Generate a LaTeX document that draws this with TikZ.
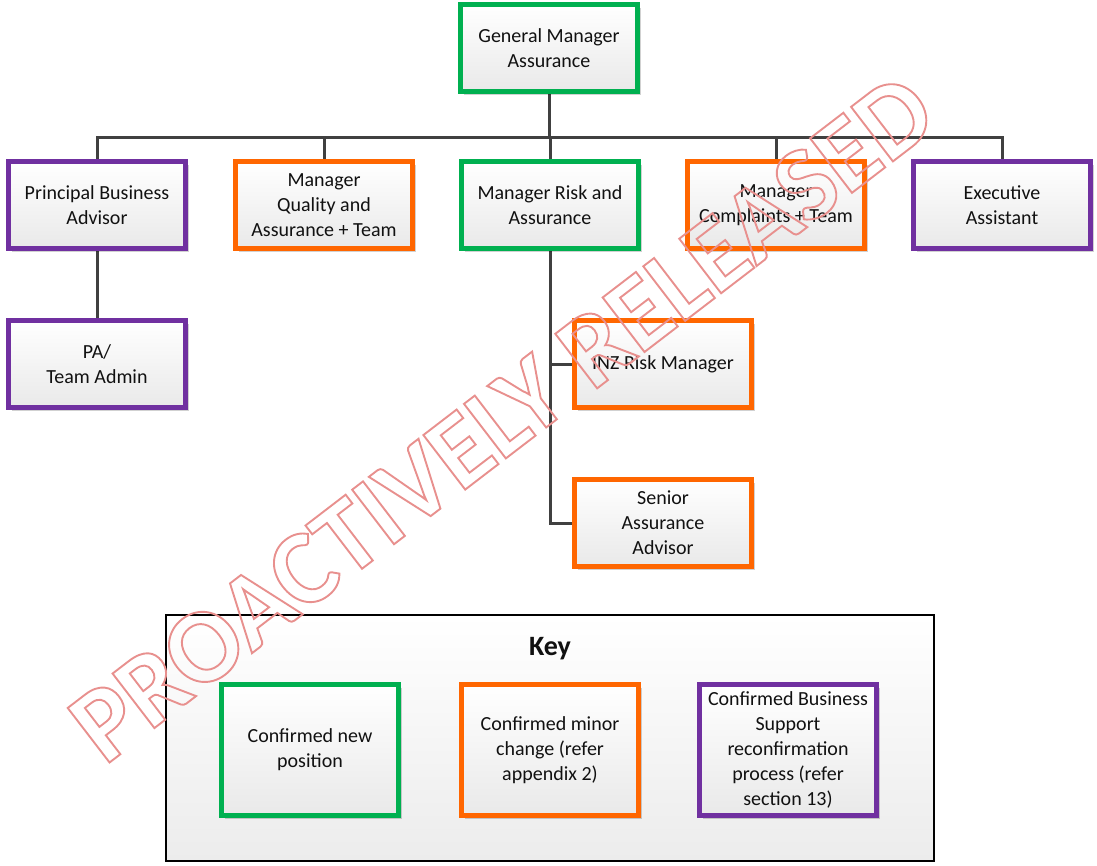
\documentclass[tikz,border=0pt]{standalone}
\usepackage{fontspec}
\setmainfont{Carlito}
\usetikzlibrary{shadows,backgrounds}
\definecolor{cgreen}{HTML}{00B050}
\definecolor{corange}{HTML}{FF6600}
\definecolor{cpurple}{HTML}{7030A0}
\definecolor{cline}{HTML}{404040}
\definecolor{wmcol}{HTML}{E8908E}
\definecolor{boxbot}{HTML}{E9E9E9}
\definecolor{keybot}{HTML}{ECECEC}
\definecolor{txt}{HTML}{111111}
\begin{document}
\begin{tikzpicture}[x=1pt,y=-1pt,
  box/.style={draw=#1, line width=5pt, rectangle, minimum width=177pt, minimum height=87pt,
    inner sep=0pt, align=center, top color=white, bottom color=boxbot,
    font=\fontsize{20}{25}\selectfont, text=txt,
    drop shadow={shadow xshift=3pt, shadow yshift=-3pt, fill=black, opacity=0.18}},
  keyitem/.style={box=#1, minimum height=131pt},
  conn/.style={draw=cline, line width=3pt}]
\useasboundingbox (0,0) rectangle (1097,865);
% key box
\node[draw=black, line width=2pt, rectangle, minimum width=768pt, minimum height=246pt,
  top color=white, bottom color=keybot, inner sep=0pt] (key) at (550,738) {};
\node[font=\fontsize{28}{30}\selectfont\bfseries, text=txt] (keylbl) at (550,649) {Key};
\node[keyitem=cgreen] (k1) at (310,750) {Confirmed new\\position};
\node[keyitem=corange] (k2) at (550,750) {Confirmed minor\\change (refer\\appendix 2)};
\node[keyitem=cpurple] (k3) at (788,750) {Confirmed Business\\Support\\reconfirmation\\process (refer\\section 13)};
% org chart
\node[box=cgreen] (gm) at (549,48) {General Manager\\Assurance};
\node[box=cpurple] (pba) at (97,205) {Principal Business\\Advisor};
\node[box=corange] (mqa) at (324,205) {Manager\\Quality and\\Assurance + Team};
\node[box=cgreen] (mra) at (550,205) {Manager Risk and\\Assurance};
\node[box=corange] (mc) at (776,205) {Manager\\Complaints + Team};
\node[box=cpurple] (ea) at (1002,205) {Executive\\Assistant};
\node[box=cpurple] (pa) at (97,364) {PA/\\Team Admin};
\node[box=corange] (inz) at (663,364) {INZ Risk Manager};
\node[box=corange] (saa) at (663,523) {Senior\\Assurance\\Advisor};
\coordinate (bus) at (549,137);
\begin{scope}[on background layer]
\draw[conn] (gm.south) -- (gm.south |- bus);
\draw[conn] (pba.north) |- (bus) -| (ea.north);
\draw[conn] (mqa.north) -- (mqa.north |- bus);
\draw[conn] (mra.north) -- (mra.north |- bus);
\draw[conn] (mc.north) -- (mc.north |- bus);
\draw[conn] (pba.south) -- (pa.north);
\draw[conn] (mra.south) |- (saa.west);
\draw[conn] (mra.south |- inz.west) -- (inz.west);
\end{scope}
% watermark
\node[rotate=37.5, text=wmcol, font=\fontsize{106}{106}\selectfont\bfseries, inner sep=0pt] (wm) at (502,418)
  {\special{pdf:literal direct 1.9 w 1 Tr}PROACTIVELY RELEASED\special{pdf:literal direct 0 Tr}};
\end{tikzpicture}
\end{document}
